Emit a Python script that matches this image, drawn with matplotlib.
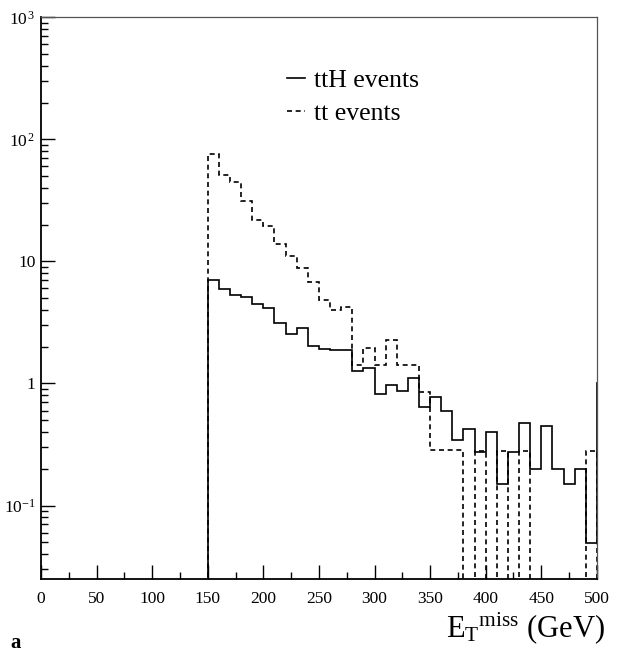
"""
Missing transverse energy: ttH vs tt events (log scale histogram)
"""
import numpy as np
import matplotlib
matplotlib.use('Agg')
import matplotlib.pyplot as plt
from matplotlib.ticker import FixedLocator, LogLocator, MultipleLocator, NullFormatter

plt.rcParams['font.family'] = ['Liberation Serif', 'DejaVu Serif']
plt.rcParams['mathtext.fontset'] = 'custom'
plt.rcParams['mathtext.rm'] = 'Liberation Serif'
plt.rcParams['mathtext.it'] = 'Liberation Serif:italic'

# =============================================================================
# Data: 10 GeV bins from 0 to 510 (last bin is overflow, outside the frame)
# =============================================================================
bin_edges = np.arange(0, 520, 10)

# bins 150..500, bins below 150 are empty
tth_vals = [7.0, 5.98, 5.34, 5.11, 4.45, 4.17, 3.14, 2.55, 2.84, 2.02,
            1.91, 1.89, 1.87, 1.27, 1.33, 0.817, 0.968, 0.87, 1.10, 0.643,
            0.776, 0.596, 0.347, 0.424, 0.275, 0.40, 0.151, 0.275, 0.475, 0.198,
            0.446, 0.198, 0.151, 0.198, 0.0495, 1.0]
tt_vals = [76.0, 50.7, 44.4, 31.4, 21.9, 19.4, 13.8, 11.1, 8.9, 6.8,
           4.83, 4.0, 4.26, 1.41, 1.96, 1.41, 2.27, 1.41, 1.41, 0.853,
           0.283, 0.283, 0.283, 0.0, 0.28, 0.0, 0.28, 0.0, 0.28, 0.0,
           0.0, 0.0, 0.0, 0.0, 0.28, 0.0]

n_empty = 15
tth = np.concatenate([np.zeros(n_empty), tth_vals])
tt = np.concatenate([np.zeros(n_empty), tt_vals])

ytick_vals   = [0.1, 1, 10, 100, 1000]
ytick_labels = [r'10$^{-1}$', '1', '10', r'10$^{\,2}$', r'10$^{\,3}$']
xtick_vals   = np.arange(0, 550, 50)

# =============================================================================
# Figure
# =============================================================================
fig = plt.figure(figsize=(6.18, 6.54), dpi=100)
ax = fig.add_axes([0.0663, 0.1147, 0.8995, 0.8588])

ax.set_yscale('log', nonpositive='clip')
ax.stairs(tth, bin_edges, baseline=0, color='black', linewidth=1.2,
          label='ttH events')
ax.stairs(tt, bin_edges, baseline=0, color='black', linewidth=1.2,
          linestyle=(0, (3, 2.2)), label='tt events')

ax.set_xlim(0, 500)
ax.set_ylim(0.025, 1000)

ax.yaxis.set_major_locator(FixedLocator(ytick_vals))
ax.set_yticklabels(ytick_labels)
ax.yaxis.set_minor_locator(LogLocator(base=10, subs=np.arange(2, 10)))
ax.yaxis.set_minor_formatter(NullFormatter())
ax.set_xticks(xtick_vals)
ax.set_xticklabels([str(v) for v in xtick_vals])
ax.xaxis.set_minor_locator(MultipleLocator(25))

ax.tick_params(which='both', direction='in', top=False, right=False,
               labelsize=12.5, color='black')
ax.tick_params(which='major', length=10, width=1.0)
ax.tick_params(which='minor', length=5, width=1.0)
ax.tick_params(axis='x', pad=9)
ax.tick_params(axis='y', pad=4)

for side in ['left', 'bottom']:
    ax.spines[side].set_linewidth(1.3)
for side in ['top', 'right']:
    ax.spines[side].set_linewidth(0.9)
    ax.spines[side].set_color('#555555')

ax.legend(loc='upper left', bbox_to_anchor=(0.401, 0.95), frameon=False,
          fontsize=18.5, handlelength=0.7, handletextpad=0.35, labelspacing=0.42)

fig.text(0.979, 0.012, r'E$_{\mathrm{T}}$$^{\mathrm{miss}}$ (GeV)', fontsize=22,
         ha='right', va='bottom')
fig.text(0.016, 0.002, 'a', fontsize=15, fontweight='bold', ha='left',
         va='bottom')

plt.savefig('out.png', dpi=100)
plt.close()
